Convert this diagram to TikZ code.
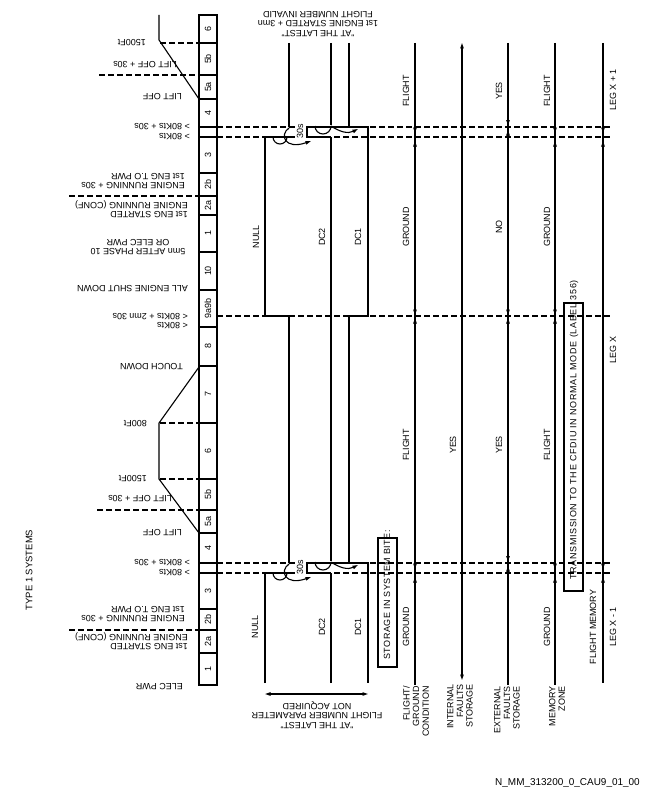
\documentclass[tikz,border=0pt]{standalone}
\usepackage{fontspec}
\setmainfont{Liberation Sans}
\usetikzlibrary{arrows.meta}
\begin{document}
\begin{tikzpicture}[x=1bp,y=-1bp,
  every node/.style={font=\fontsize{9}{9.6}\selectfont, inner sep=0pt},
  ln/.style={line width=1.1bp},
  dsh/.style={line width=1.1bp, dash pattern=on 5.5bp off 3.5bp},
  tip/.style={-{Triangle[length=5.5bp,width=3.4bp]}},
  upl/.style={rotate=180, anchor=west, align=left},
  upc/.style={rotate=180, anchor=center, align=center},
  vlab/.style={rotate=90, anchor=center},
  blab/.style={rotate=90, anchor=east, align=right},
  wide/.style={font=\fontsize{9}{9.6}\selectfont\addfontfeatures{LetterSpace=6}},
  wider/.style={font=\fontsize{9}{9.6}\selectfont\addfontfeatures{LetterSpace=8}},
]
\useasboundingbox (0,0) rectangle (648,792);

% ---------- phase column ----------
\draw[ln] (199,15) rectangle (217,685);
\foreach \yy in {43,75,99,127,137,173,196,215,252,290,327,366,423,479,510,533,563,573,609,630,653}
  \draw[ln] (199,\yy) -- (217,\yy);
\foreach \lab/\yy in {6/29,5b/59,5a/87,4/113,3/155,2b/184.5,2a/205.5,1/233.5,10/271,9a9b/308.5,8/346.5,7/394.5,6/451,5b/494.5,5a/521.5,4/548,3/591,2b/619.5,2a/641.5,1/669}
  \node[vlab] (c\yy) at (208,\yy) {\lab};

% altitude profiles
\draw[ln] (159,15) -- (159,40) -- (199,99);
\draw[ln] (199,367) -- (159,423) -- (159,479) -- (199,533);

% left dashed lines
\draw[dsh] (160,43) -- (199,43);
\draw[dsh] (99,75) -- (199,75);
\draw[dsh] (69,196) -- (199,196);
\draw[dsh] (160,423) -- (199,423);
\draw[dsh] (160,479) -- (199,479);
\draw[dsh] (97,510) -- (199,510);
\draw[dsh] (69,630) -- (199,630);

% long dashed lines
\foreach \yy in {127,137,316,563,573}
  \draw[dsh] (217,\yy) -- (613,\yy);

% ---------- left labels (upside down) ----------
\node[upl] (l1) at (146,43) {1500Ft};
\node[upl] (l2) at (177,65) {LIFT OFF + 30s};
\node[upl] (l3) at (182,97) {LIFT OFF};
\node[upl] (l4) at (190,127) {> 80Kts + 30s};
\node[upl] (l5) at (190,137) {> 80Kts};
\node[upl] (l6) at (185,181) {ENGINE RUNNING + 30s\\1st ENG T.O PWR};
\node[upl] (l7) at (188,209) {1st ENG STARTED\\ENGINE RUNNING (CONF)};
\node[upc] (l8) at (138,247) {5mn AFTER PHASE 10\\OR ELEC PWR};
\node[upl] (l9) at (188,289) {ALL ENGINE SHUT DOWN};
\node[upl] (l10) at (188,317) {< 80Kts + 2mn 30s};
\node[upl] (l11) at (188,326) {< 80Kts};
\node[upl] (l12) at (183,367) {TOUCH DOWN};
\node[upl] (l13) at (147,424) {800Ft};
\node[upl] (l14) at (147,479) {1500Ft};
\node[upl] (l15) at (172,499) {LIFT OFF + 30s};
\node[upl] (l16) at (182,533) {LIFT OFF};
\node[upl] (l17) at (190,563) {> 80Kts + 30s};
\node[upl] (l18) at (190,573) {> 80Kts};
\node[upl] (l19) at (185,614) {ENGINE RUNNING + 30s\\1st ENG T.O PWR};
\node[upl] (l20) at (188,641) {1st ENG STARTED\\ENGINE RUNNING (CONF)};
\node[upl] (l21) at (183,687) {ELEC PWR};

\node[rotate=90] (type) at (29,570) {\fontsize{9.5}{10}\selectfont TYPE 1 SYSTEMS};

% ---------- flight number parameter lines ----------
\draw[ln] (289,43) -- (289,127);
\draw[ln] (331,43) -- (331,125);
\draw[ln] (349,43) -- (349,127) -- (368,127) -- (368,316) -- (349,316) -- (349,563) -- (368,563) -- (368,683);
\draw[ln] (265,683) -- (265,573) -- (289,573);
\draw[ln] (289,563) -- (289,316) -- (265,316) -- (265,137) -- (289,137);
\draw[ln] (331,137) -- (331,561);
\draw[ln] (331,683) -- (331,573);
% transitions (take-off, 80Kts / 80Kts + 30s)
\foreach \o in {0,436}{
  \node[vlab,fill=white,inner sep=0.5bp] (t\o) at (300,131+\o) {30s};
  \draw[ln] (331,137+\o) -- (307,137+\o) -- (307,127+\o) -- (349,127+\o);
  \draw[ln] (273,137+\o) arc (180:0:7);
  \draw[ln,tip] (289,128+\o) .. controls (279,135+\o) and (285,150+\o) .. (311,141+\o);
  \draw[ln] (315,126+\o) arc (180:0:8);
  \draw[ln,tip] (331,126+\o) .. controls (340,132+\o) and (348,134+\o) .. (358,129+\o);
}

\node[vlab] (n1) at (256,237) {NULL};
\node[vlab] (d21) at (322,237) {DC2};
\node[vlab] (d11) at (358,237) {DC1};
\node[vlab] (n2) at (255,627) {NULL};
\node[vlab] (d22) at (322,627) {DC2};
\node[vlab] (d12) at (358,627) {DC1};

\coordinate (aL) at (265,694);
\coordinate (aR) at (368,694);
\draw[ln,{Triangle[length=5.5bp,width=3.4bp]}-{Triangle[length=5.5bp,width=3.4bp]}] (aL) -- (aR);

\node[upc] (topt) at (318,24) {"AT THE LATEST"\\1st ENGINE STARTED + 3mn\\FLIGHT NUMBER INVALID};
\node[upc] (bott) at (317,715) {"AT THE LATEST"\\FLIGHT NUMBER PARAMETER\\NOT ACQUIRED};

% ---------- right lines ----------
\coordinate (f1) at (415,43); \coordinate (f2) at (415,685);
\coordinate (i1) at (462,43); \coordinate (i2) at (462,680);
\coordinate (e1) at (508,43); \coordinate (e2) at (508,685);
\coordinate (m1) at (555,43); \coordinate (m2) at (555,685);
\coordinate (g1) at (603,43); \coordinate (g2) at (603,683);
\draw[ln] (f1) -- (f2);
\draw[ln,{Triangle[length=5.5bp,width=3.4bp]}-{Triangle[length=5.5bp,width=3.4bp]}] (i1) -- (i2);
\draw[ln] (e1) -- (e2);
\draw[ln] (m1) -- (m2);
\draw[ln] (g1) -- (g2);

% transition markers
\foreach \xx in {415,555,603}{
  \foreach \yy in {137,573}{
    \draw[ln,tip] (\xx,\yy-12) -- (\xx,\yy-4);
    \draw[ln,tip] (\xx,\yy+12) -- (\xx,\yy+4);
  }
}
\foreach \yy in {127,563}{
  \draw[ln,tip] (508,\yy-10) -- (508,\yy-1.5);
  \draw[ln,tip] (508,\yy+11) -- (508,\yy+3);
}
\foreach \xx in {415,508,555}{
  \draw[ln,tip] (\xx,306) -- (\xx,315);
  \draw[ln,tip] (\xx,327) -- (\xx,318);
}

% right labels
\foreach \xx/\t in {406/FLIGHT,499/YES,547/FLIGHT}
  \node[vlab] at (\xx,91) {\t};
\node[vlab] (lxp) at (613,90) {LEG X + 1};
\foreach \xx/\t in {406/GROUND,499/NO,547/GROUND}
  \node[vlab] at (\xx,227) {\t};
\node[vlab] (lx) at (613,350) {LEG X};
\foreach \xx/\t in {406/FLIGHT,453/YES,499/YES,547/FLIGHT}
  \node[vlab] at (\xx,445) {\t};
\foreach \xx/\t in {406/GROUND,547/GROUND}
  \node[vlab] at (\xx,627) {\t};
\node[vlab] (fm) at (593,627) {FLIGHT MEMORY};
\node[vlab] (lxm) at (613,627) {LEG X - 1};

% boxes
\draw[ln] (378,538) rectangle (397,667);
\node[vlab,wide] (sb) at (387,595) {STORAGE IN SYSTEM BITE:};
\draw[ln] (564,303) rectangle (583,591);
\node[vlab,wider] (tr) at (574,430) {TRANSMISSION TO THE CFDIU IN NORMAL MODE (LABEL 356)};

% bottom labels
\node[blab] (b1) at (416,686) {FLIGHT/\\GROUND\\CONDITION};
\node[blab] (b2) at (460,684) {INTERNAL\\FAULTS\\STORAGE};
\node[blab] (b3) at (507,686) {EXTERNAL\\FAULTS\\STORAGE};
\node[blab] (b4) at (557,686) {MEMORY\\ZONE};

\node[anchor=east] (ref) at (640,783) {\fontsize{10}{10}\selectfont N\_MM\_313200\_0\_CAU9\_01\_00};
\end{tikzpicture}
\end{document}
